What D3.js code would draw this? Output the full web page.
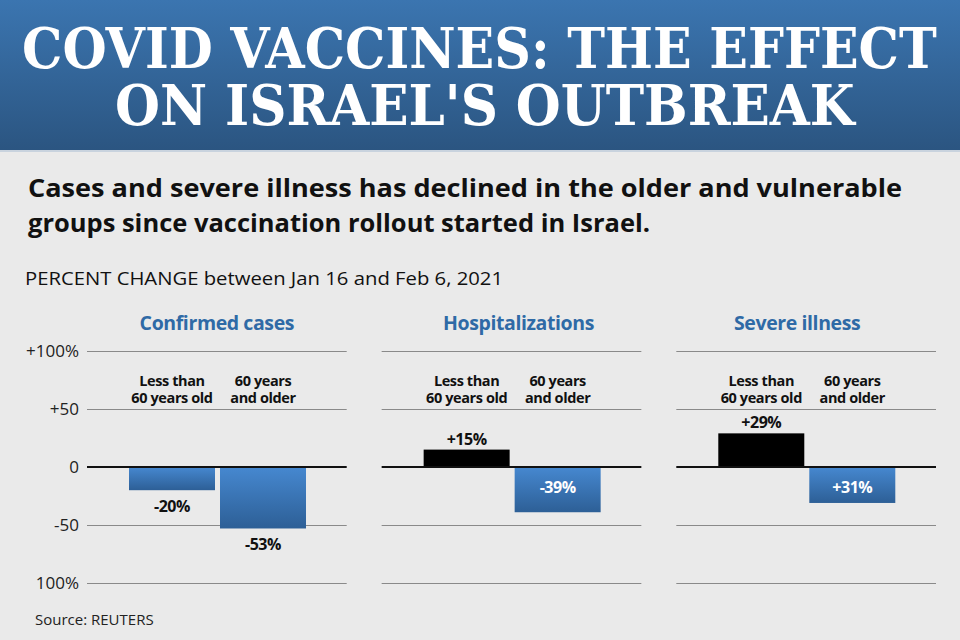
<!DOCTYPE html>
<html>
<head>
<meta charset="utf-8">
<script src="https://cdn.jsdelivr.net/npm/d3@7"></script>
<style>
  body { margin: 0; background: #eaeaea; }
  svg { display: block; }
  .tick-label { font-family: "Open Sans", sans-serif; font-size: 17px; fill: #222; }
  .cat { font-family: "Open Sans", sans-serif; font-size: 14.5px; font-weight: 700; fill: #111; letter-spacing: -0.4px; }
  .val { font-family: "Open Sans", sans-serif; font-size: 16px; font-weight: 700; letter-spacing: -0.5px; }
  .panel-title { font-family: "Open Sans", sans-serif; font-size: 19.5px; font-weight: 700; fill: #2f6aa6; letter-spacing: -0.4px; }
</style>
</head>
<body>
<script>
// data
const panels = ["Confirmed cases", "Hospitalizations", "Severe illness"];
const groups = ["Less than|60 years old", "60 years|and older"];
const values = [
  [-20, -53],
  [15, -39],
  [29, -31]
];
const valueLabels = [
  ["-20%", "-53%"],
  ["+15%", "-39%"],
  ["+29%", "+31%"]
];
const labelInside = [
  [false, false],
  [false, true],
  [false, true]
];
const yTicks = [100, 50, 0, -50, -100];
const yTickLabels = ["+100%", "+50", "0", "-50", "100%"];

const W = 960, H = 640;
const svg = d3.select("body").append("svg")
  .attr("width", W)
  .attr("height", H);

const defs = svg.append("defs");
const hg = defs.append("linearGradient").attr("id", "hdr")
  .attr("x1", 0).attr("y1", 0).attr("x2", 0).attr("y2", 1);
hg.append("stop").attr("offset", "0%").attr("stop-color", "#3b75b0");
hg.append("stop").attr("offset", "100%").attr("stop-color", "#2b5581");

const bg = defs.append("linearGradient").attr("id", "barblue")
  .attr("x1", 0).attr("y1", 0).attr("x2", 0).attr("y2", 1);
bg.append("stop").attr("offset", "0%").attr("stop-color", "#4688d0");
bg.append("stop").attr("offset", "100%").attr("stop-color", "#2d5f96");

// background
svg.append("rect").attr("width", W).attr("height", H).attr("fill", "#eaeaea");

// header
svg.append("rect").attr("width", W).attr("height", 150).attr("fill", "url(#hdr)");
svg.append("rect").attr("y", 150).attr("width", W).attr("height", 2).attr("fill", "#c9d3de");

// title: drawn at natural width then squeezed horizontally to fit
const titleLines = [
  {t: "COVID VACCINES: THE EFFECT", x: 22, y: 68, w: 915},
  {t: "ON ISRAEL'S OUTBREAK", x: 115, y: 125, w: 740}
];
svg.selectAll(".title").data(titleLines).enter().append("text")
  .attr("class", "title")
  .style("font-family", "'DejaVu Serif', serif")
  .style("font-weight", 700)
  .style("font-stretch", "condensed")
  .style("font-size", "56px")
  .attr("fill", "#fff")
  .text(d => d.t)
  .each(function(d) {
    const len = this.getComputedTextLength();
    d3.select(this).attr("transform",
      "translate(" + d.x + "," + d.y + ") scale(" + (d.w / len) + ",1)");
  });

// subtitle
const subLines = [
  {t: "Cases and severe illness has declined in the older and vulnerable", y: 197, w: 874},
  {t: "groups since vaccination rollout started in Israel.", y: 232, w: 622}
];
svg.selectAll(".sub").data(subLines).enter().append("text")
  .attr("x", 28)
  .attr("y", d => d.y)
  .attr("textLength", d => d.w)
  .attr("lengthAdjust", "spacingAndGlyphs")
  .style("font-family", "'Open Sans', sans-serif")
  .style("font-weight", 700)
  .style("font-size", "25px")
  .attr("fill", "#111")
  .text(d => d.t);

svg.append("text")
  .attr("x", 25).attr("y", 285)
  .attr("textLength", 478)
  .attr("lengthAdjust", "spacingAndGlyphs")
  .style("font-family", "'Open Sans', sans-serif")
  .style("font-size", "18px")
  .attr("fill", "#111")
  .text("PERCENT CHANGE between Jan 16 and Feb 6, 2021");

svg.append("text")
  .attr("x", 35).attr("y", 625)
  .style("font-family", "'Open Sans', sans-serif")
  .style("font-size", "15px")
  .attr("fill", "#222")
  .text("Source: REUTERS");

// scales
const yScale = d3.scaleLinear().domain([-100, 100]).range([583, 351]);
const panelScale = d3.scaleBand().domain(panels).range([87, 936]).paddingInner(0.1186);
const titleNudge = [0, 7, -9];

// y axis labels
svg.append("g")
  .attr("transform", "translate(79,0)")
  .call(d3.axisLeft(yScale).tickValues(yTicks).tickSize(0).tickPadding(0)
    .tickFormat((d, i) => yTickLabels[i]))
  .call(g => g.select(".domain").remove())
  .call(g => g.selectAll("text").attr("class", "tick-label").attr("dy", "0.35em").attr("fill", null));

panels.forEach(function(p, pi) {
  const px = panelScale(p);
  const g = svg.append("g");
  const xScale = d3.scaleBand().domain(groups)
    .range([px + 42, px + 219]).paddingInner(0.055);

  // gridlines
  g.append("g")
    .attr("transform", "translate(" + px + ",0)")
    .call(d3.axisLeft(yScale).tickValues(yTicks.filter(d => d !== 0))
      .tickSize(-panelScale.bandwidth()).tickFormat(""))
    .call(s => s.select(".domain").remove())
    .call(s => s.selectAll("line").attr("stroke", "#8a8a8a").attr("stroke-width", 1));

  // panel title
  g.append("text")
    .attr("class", "panel-title")
    .attr("x", px + panelScale.bandwidth() / 2 + titleNudge[pi])
    .attr("y", 330)
    .attr("text-anchor", "middle")
    .text(p);

  // category labels, one text per line
  groups.forEach(function(c) {
    c.split("|").forEach(function(line, li) {
      g.append("text")
        .attr("class", "cat")
        .attr("text-anchor", "middle")
        .attr("x", xScale(c) + xScale.bandwidth() / 2)
        .attr("y", 386 + li * 17)
        .text(line);
    });
  });

  const data = groups.map((c, i) => ({c: c, v: values[pi][i], lab: valueLabels[pi][i], inside: labelInside[pi][i]}));

  // bars
  g.selectAll(".bar").data(data).enter().append("rect")
    .attr("x", d => xScale(d.c))
    .attr("width", xScale.bandwidth())
    .attr("y", d => yScale(Math.max(0, d.v)))
    .attr("height", d => Math.abs(yScale(d.v) - yScale(0)))
    .attr("fill", d => d.v >= 0 ? "#000" : "url(#barblue)");

  // zero line
  g.append("line")
    .attr("x1", px).attr("x2", px + panelScale.bandwidth())
    .attr("y1", yScale(0)).attr("y2", yScale(0))
    .attr("stroke", "#111").attr("stroke-width", 2);

  // value labels
  g.selectAll(".val").data(data).enter().append("text")
    .attr("class", "val")
    .attr("text-anchor", "middle")
    .attr("x", d => xScale(d.c) + xScale.bandwidth() / 2)
    .attr("y", function(d) {
      if (d.inside) return yScale(0) + 26;
      if (d.v >= 0) return yScale(d.v) - 5;
      return yScale(d.v) + 22;
    })
    .attr("fill", d => d.inside ? "#fff" : "#111")
    .text(d => d.lab);
});
</script>
</body>
</html>
